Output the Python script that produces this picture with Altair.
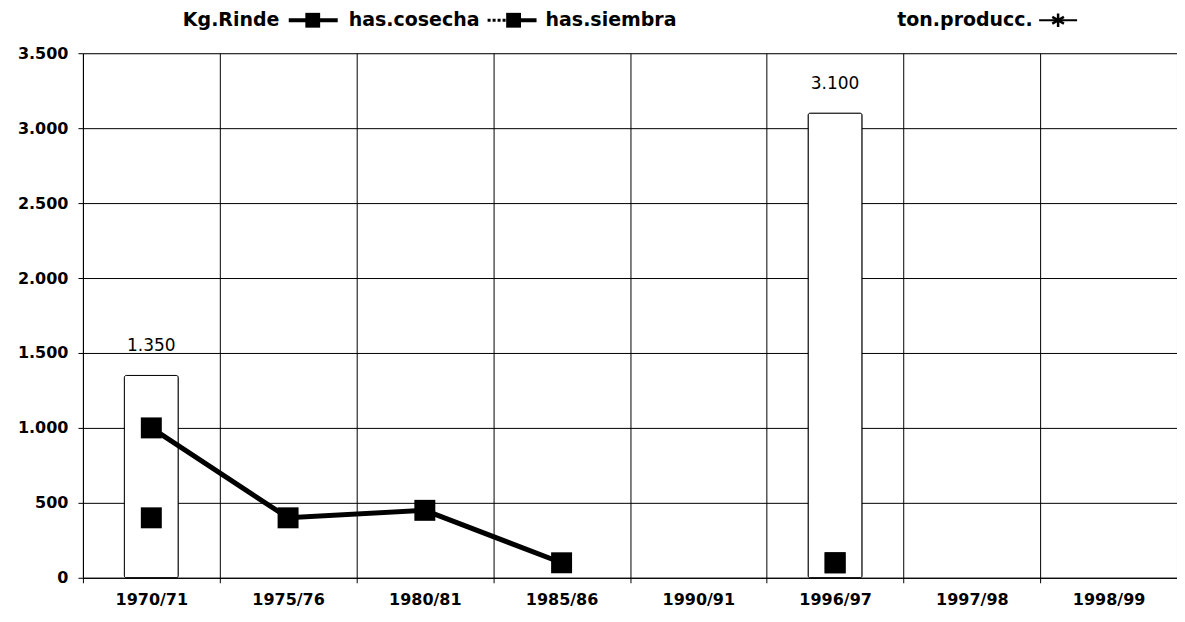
import altair as alt
import pandas as pd

years = ["1970/71", "1975/76", "1980/81", "1985/86", "1990/91", "1996/97", "1997/98", "1998/99"]
kg_rinde = [1350, None, None, None, None, 3100, None, None]
has_cosecha = [1000, 400, 450, 100, None, 100, None, None]
has_siembra = [400, None, None, None, None, 100, None, None]
ton_producc = [None, None, None, None, None, None, None, None]
y_ticks = [0, 500, 1000, 1500, 2000, 2500, 3000, 3500]

legend_labels = ["Kg.Rinde", "has.cosecha", "has.siembra", "ton.producc."]

df = pd.DataFrame({
    "year": years,
    "rinde": kg_rinde,
    "cosecha": has_cosecha,
    "siembra": has_siembra,
    "produc": ton_producc,
})

FONT = "DejaVu Sans"
x_enc = alt.X("year:N", sort=years,
              scale=alt.Scale(paddingInner=0, paddingOuter=0),
              axis=alt.Axis(title=None, labelAngle=0, tickBand="extent",
                            labelFont=FONT, labelFontWeight="bold", labelFontSize=16,
                            labelColor="black", labelPadding=9, tickSize=5,
                            tickColor="black", domainColor="black",
                            gridColor="black", grid=True, gridWidth=1))
y_scale = alt.Scale(domain=[0, 3500], nice=False)
y_axis = alt.Axis(title=None, values=y_ticks,
                  labelExpr="replace(format(datum.value, ',d'), ',', '.')",
                  labelFont=FONT, labelFontWeight="bold", labelFontSize=16,
                  labelColor="black", labelPadding=10, tickSize=5,
                  tickColor="black", domainColor="black",
                  gridColor="black", grid=True, gridWidth=1)

base = alt.Chart(df)

bars = base.mark_bar(size=54, fill="white", stroke="black", strokeWidth=1,
                     cornerRadius=2).encode(
    x=x_enc, y=alt.Y("rinde:Q", scale=y_scale, axis=y_axis))

bar_labels = base.transform_filter("isValid(datum.rinde)").transform_calculate(
    lbl="replace(format(datum.rinde, ',d'), ',', '.')"
).mark_text(dy=-29, font=FONT, fontSize=17, color="black").encode(
    x=alt.X("year:N", sort=years), y=alt.Y("rinde:Q", scale=y_scale), text="lbl:N")

cos_line = base.mark_line(color="black", strokeWidth=5,
                          invalid="break-paths-show-domains").encode(
    x=alt.X("year:N", sort=years), y=alt.Y("cosecha:Q", scale=y_scale))
cos_pts = base.transform_filter("isValid(datum.cosecha)").mark_point(
    shape="square", size=440, filled=True, color="black", opacity=1).encode(
    x=alt.X("year:N", sort=years), y=alt.Y("cosecha:Q", scale=y_scale))

sie_line = base.mark_line(color="black", strokeWidth=3, strokeDash=[4, 3],
                          invalid="break-paths-show-domains").encode(
    x=alt.X("year:N", sort=years), y=alt.Y("siembra:Q", scale=y_scale))
sie_pts = base.transform_filter("isValid(datum.siembra)").mark_point(
    shape="square", size=440, filled=True, color="black", opacity=1).encode(
    x=alt.X("year:N", sort=years), y=alt.Y("siembra:Q", scale=y_scale))

# legend (drawn manually: label followed by symbol)
leg_df = pd.DataFrame({"label": legend_labels})
LY = -33
leg_text = []
for lbl, px in zip(legend_labels, [100, 266, 463, 815]):
    leg_text.append(
        alt.Chart(pd.DataFrame({"label": [lbl]})).mark_text(
            align="left", baseline="middle", font=FONT, fontWeight="bold",
            fontSize=19, color="black").encode(
            x=alt.value(px), y=alt.value(LY), text="label:N"))

sym1_line = alt.Chart(leg_df.head(1)).mark_rule(color="black", strokeWidth=4).encode(
    x=alt.value(206), x2=alt.value(255), y=alt.value(LY))
sym1_pt = alt.Chart(leg_df.head(1)).mark_point(shape="square", size=220, filled=True,
                                               color="black", opacity=1).encode(
    x=alt.value(230), y=alt.value(LY))
sym2_line_a = alt.Chart(leg_df.head(1)).mark_rule(color="black", strokeWidth=3,
                                                  strokeDash=[3, 2]).encode(
    x=alt.value(405), x2=alt.value(428), y=alt.value(LY))
sym2_line_b = alt.Chart(leg_df.head(1)).mark_rule(color="black", strokeWidth=4).encode(
    x=alt.value(428), x2=alt.value(454), y=alt.value(LY))
sym2_pt = alt.Chart(leg_df.head(1)).mark_point(shape="square", size=220, filled=True,
                                               color="black", opacity=1).encode(
    x=alt.value(431), y=alt.value(LY))
sym3_line = alt.Chart(leg_df.head(1)).mark_rule(color="black", strokeWidth=2).encode(
    x=alt.value(957), x2=alt.value(995), y=alt.value(LY))
sym3_pt = alt.Chart(leg_df.head(1)).mark_point(
    shape="M0,-1L0,1M-0.87,-0.5L0.87,0.5M-0.87,0.5L0.87,-0.5",
    size=180, filled=False, strokeWidth=2.5, color="black", opacity=1).encode(
    x=alt.value(976), y=alt.value(LY))

chart = alt.layer(
    bars, bar_labels, sie_line, cos_line, sie_pts, cos_pts,
    *leg_text, sym1_line, sym1_pt, sym2_line_a, sym2_line_b, sym2_pt, sym3_line, sym3_pt
).properties(
    width=1095, height=525,
    padding={"left": 75, "top": 45, "right": 0, "bottom": 40},
    autosize=alt.AutoSizeParams(type="none"),
).configure_view(stroke="black", strokeWidth=1
).configure(background="white")

chart.save("out.html", embed_options={"renderer": "svg", "actions": False})
